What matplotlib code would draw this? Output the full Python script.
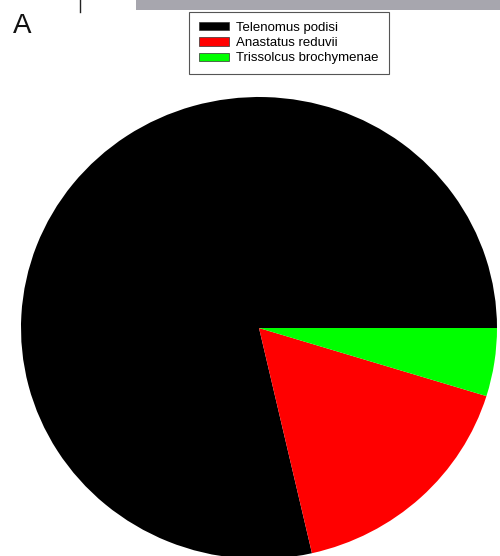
import matplotlib
matplotlib.use("Agg")
import matplotlib.pyplot as plt
from matplotlib.patches import Rectangle
from matplotlib.lines import Line2D

species = ["Telenomus podisi", "Anastatus reduvii", "Trissolcus brochymenae"]
counts = [33, 7, 2]
colors = ["#000000", "#ff0000", "#00ff00"]

plt.rcParams['font.family'] = ['Liberation Sans', 'DejaVu Sans']

fig = plt.figure(figsize=(5.0, 5.56), dpi=100)
ax = fig.add_axes([21/500, (556-559)/556, 476/500, 462/556])
wedges, _ = ax.pie(counts, colors=colors, startangle=0, counterclock=True,
                   wedgeprops=dict(linewidth=0))
ax.set_aspect('auto')
ax.set_xlim(-1, 1)
ax.set_ylim(-1, 1)
ax.axis('off')

leg = fig.legend(wedges, species, loc='upper left', bbox_to_anchor=(189/500, 1-12/556),
                 fontsize=9.5, handlelength=2.3, handleheight=0.58, handletextpad=0.55,
                 labelspacing=0.25, borderpad=0.75, borderaxespad=0, fancybox=False,
                 framealpha=1, edgecolor='#555555')
leg.get_frame().set_linewidth(0.8)
for h in leg.legend_handles:
    h.set_edgecolor('#333333')
    h.set_linewidth(0.5)

fig.text(13/500, 1-33/556, "A", fontsize=20, ha='left', va='baseline', color='#111111')

fig.patches.append(Rectangle((136/500, 1-10/556), 364/500, 10/556, transform=fig.transFigure,
                             facecolor='#a7a6ae', edgecolor='none'))
fig.lines.append(Line2D([80/500, 80/500], [1, 1-12/556], transform=fig.transFigure,
                        color='#222222', linewidth=1))

fig.savefig("out.png", dpi=100)
